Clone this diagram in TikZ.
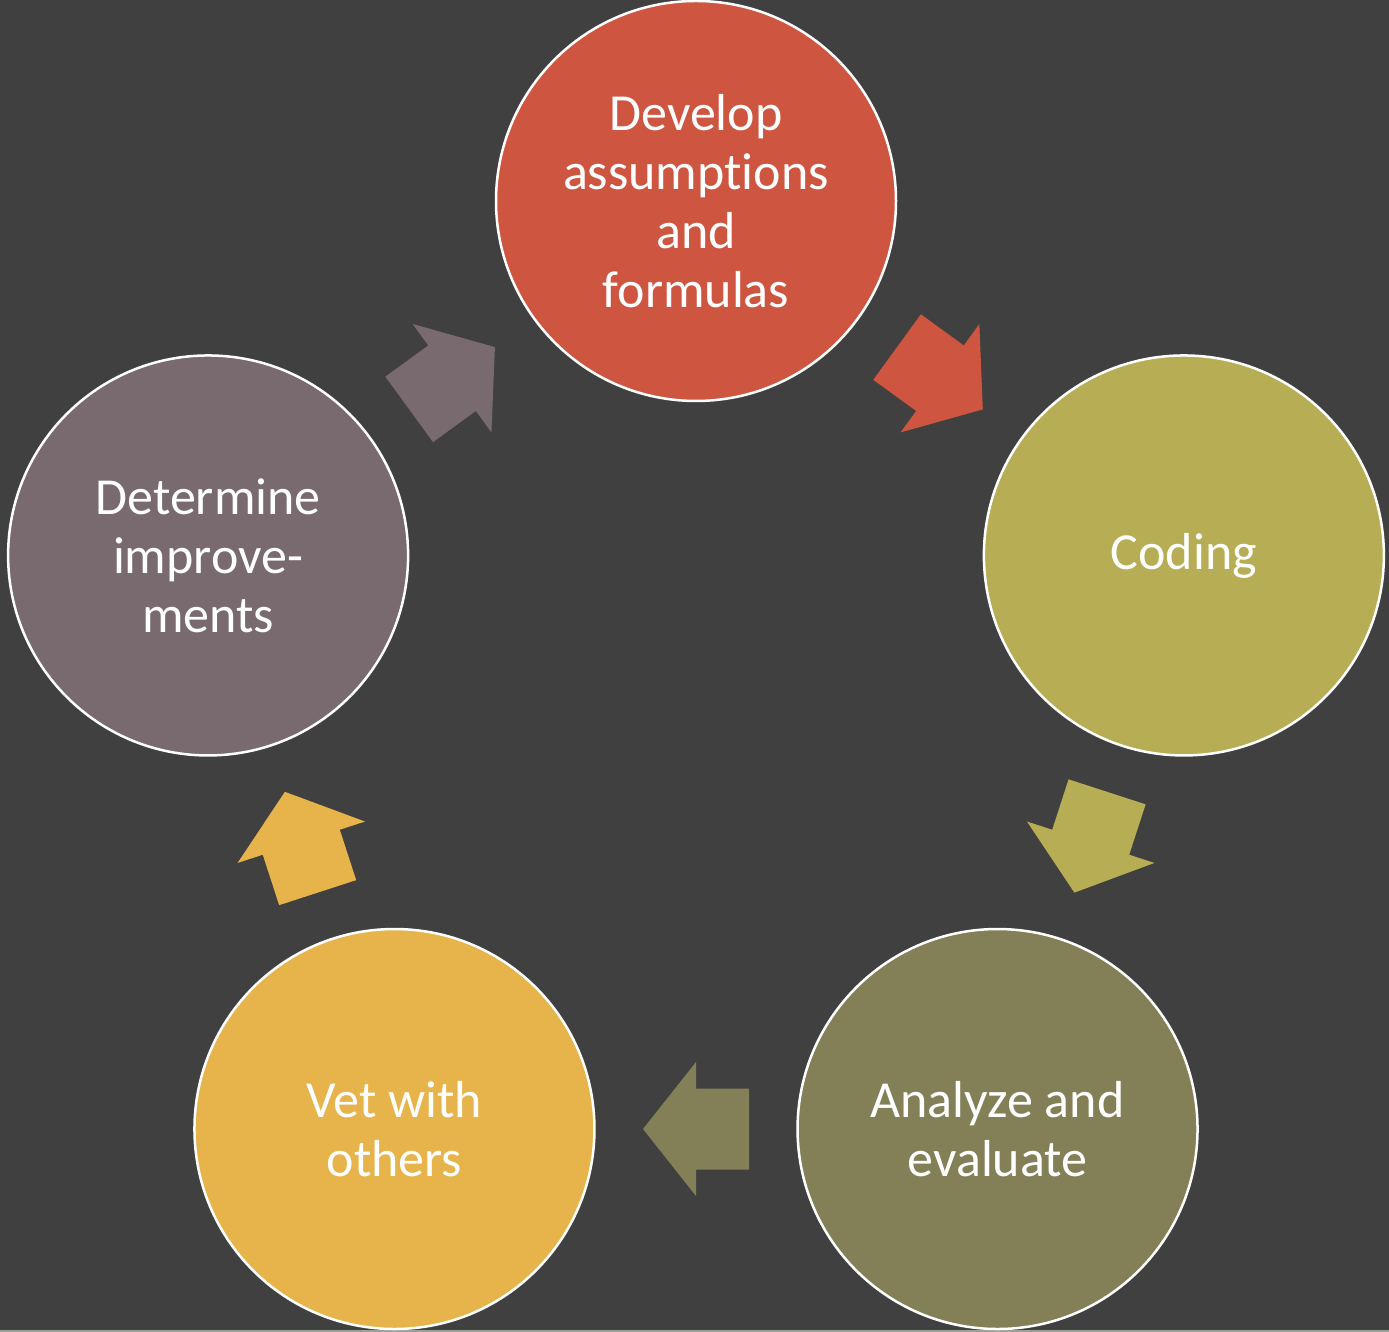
\documentclass[tikz,border=0pt]{standalone}
\usepackage{fontspec}
\setmainfont{Carlito}[Ligatures=NoCommon,RawFeature=-liga]
\usetikzlibrary{calc}
\definecolor{bg}{HTML}{404040}
\definecolor{cred}{HTML}{CE5641}
\definecolor{colive}{HTML}{B6AD54}
\definecolor{cdolive}{HTML}{838058}
\definecolor{cyellow}{HTML}{E7B44C}
\definecolor{cmauve}{HTML}{786A6E}
\definecolor{cstrip}{HTML}{97A29A}
\tikzset{
  stage/.style={circle, minimum size=400pt, inner sep=0pt, draw=white, line width=2.5pt,
    text=white, align=center, font=\fontsize{52}{59}\selectfont},
}
\begin{document}
\begin{tikzpicture}[x=1pt,y=1pt]
\fill[bg] (0,0) rectangle (1389,1332);
\useasboundingbox (0,0) rectangle (1389,1332);
\fill[cstrip] (0,0) rectangle (1389,2);
\coordinate (ctr) at (696,618);
\node[stage, fill=cred] (c0) at ($(ctr)+(90:513pt)$) {Develop\\assumptions\\and\\formulas};
\node[stage, fill=colive] (c1) at ($(ctr)+(18:513pt)$) {Coding};
\node[stage, fill=cdolive] (c2) at ($(ctr)+(-54:513pt)$) {Analyze and\\evaluate};
\node[stage, fill=cyellow] (c3) at ($(ctr)+(-126:513pt)$) {Vet with\\others};
\node[stage, fill=cmauve] (c4) at ($(ctr)+(162:513pt)$) {Determine\\improve-\\ments};
\foreach \a/\b/\col in {c0/c1/cred, c1/c2/colive, c2/c3/cdolive, c3/c4/cyellow, c4/c0/cmauve}{
  \fill[fill=\col] let \p1=($(\b)-(\a)$), \n1={atan2(\y1,\x1)}, \p2=($(\a)!0.5!(\b)$) in
    (\p2) ++(\n1:-53pt) ++(\n1+90:40.5pt)
    -- ++(\n1:53pt)
    -- ++(\n1+90:26.5pt)
    -- ++(\n1-51.66:85.43pt)
    -- ++(\n1-128.34:85.43pt)
    -- ++(\n1+90:26.5pt)
    -- ++(\n1+180:53pt)
    -- cycle;
}
\end{tikzpicture}
\end{document}
